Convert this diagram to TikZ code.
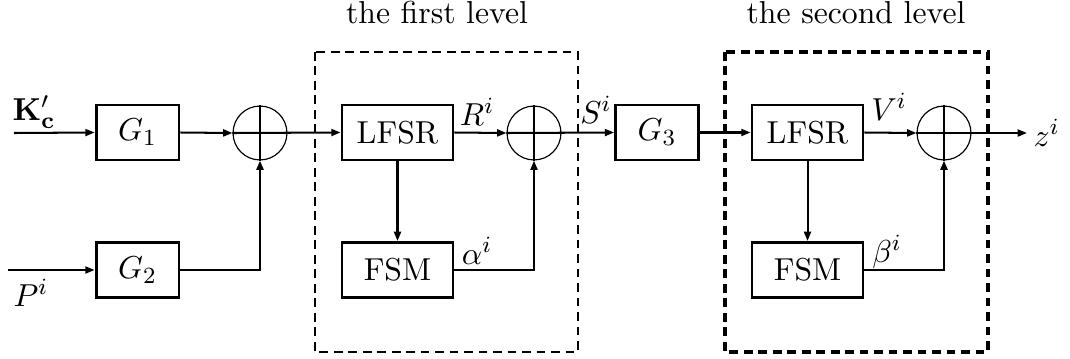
\documentclass[tikz,border=0pt]{standalone}
\usetikzlibrary{arrows.meta}
\begin{document}
\begin{tikzpicture}[x=0.345pt,y=-0.345pt,
 font=\fontsize{10.95}{13}\selectfont,
 blk/.style={draw,line width=1pt,minimum width=28.6pt,minimum height=19pt,inner sep=0pt},
 wblk/.style={blk,minimum width=38.3pt},
 xorc/.style={draw,circle,line width=0.4pt,minimum size=18.6pt,inner sep=0pt},
 conn/.style={line width=0.7pt},
 thk/.style={line width=1pt},
 arr/.style={conn,-{Triangle[length=3.2pt,width=2.4pt]}},
 lvlone/.style={line width=0.8pt,dash pattern=on 3pt off 2pt},
 lvltwo/.style={line width=1.1pt,dash pattern=on 3pt off 2pt},
 lbl/.style={inner sep=0pt}
]
\useasboundingbox (0,0) rectangle (1070,358);

% level boxes
\draw[lvlone] (315,52) rectangle (578,352);
\draw[lvltwo] (725,52) rectangle (988,352);
\node[lbl,anchor=base] (t1) at (437,23) {the first level};
\node[lbl,anchor=base] (t2) at (856,23) {the second level};

% blocks
\node[blk] (g1) at (137.5,132.5) {$G_1$};
\node[blk] (g2) at (137.5,270) {$G_2$};
\node[xorc] (x1) at (260,133) {};
\node[wblk] (l1) at (397.5,132.5) {LFSR};
\node[wblk] (f1) at (397.5,270) {FSM};
\node[xorc] (x2) at (534,133) {};
\node[blk] (g3) at (657,132.5) {$G_3$};
\node[wblk] (l2) at (807.5,132.5) {LFSR};
\node[wblk] (f2) at (807.5,270) {FSM};
\node[xorc] (x3) at (944,133) {};

% inputs / outputs
\coordinate (kin) at (14,133);
\coordinate (pin) at (8,270);
\coordinate (zout) at (1027,133);
\node[lbl] (klab) at (34,112) {$\mathbf{K}'_{\mathbf{c}}$};
\node[lbl] (plab) at (31,293) {$P^i$};
\node[lbl,anchor=west] (zlab) at (1033,133) {$z^i$};

% connectors
\draw[arr] (kin) -- (g1.west);
\draw[arr] (pin) -- (g2.west);
\draw[arr] (g1.east) -- (x1.west);
\draw[thk,-{Triangle[length=3.2pt,width=2.4pt]}] (g2.east) -| (x1.south);
\draw[thk] (x1.south) -- (x1.north);
\draw[arr] (x1.west) -- (l1.west);

\draw[arr] (l1.east) -- (x2.west);
\draw[arr] (l1.south) -- (f1.north);
\draw[conn,-{Triangle[length=3.2pt,width=2.4pt]}] (f1.east) -| (x2.south);
\draw[thk] (x2.south) -- (x2.north);
\draw[arr] (x2.west) -- (g3.west);
\draw[arr] (g3.east) -- (l2.west);

\draw[arr] (l2.east) -- (x3.west);
\draw[arr] (l2.south) -- (f2.north);
\draw[thk,-{Triangle[length=3.2pt,width=2.4pt]}] (f2.east) -| (x3.south);
\draw[thk] (x3.south) -- (x3.north);
\draw[arr] (x3.west) -- (zout);

% signal labels
\node[lbl] (rlab) at (477,112) {$R^i$};
\node[lbl] (slab) at (596,110) {$S^i$};
\node[lbl] (vlab) at (889,107) {$V^i$};
\node[lbl] (alab) at (477,251) {$\alpha^i$};
\node[lbl] (blab) at (887,252) {$\beta^i$};
\end{tikzpicture}
\end{document}
